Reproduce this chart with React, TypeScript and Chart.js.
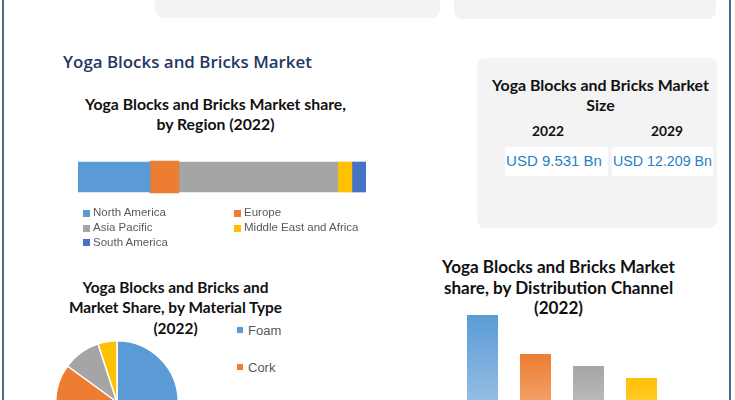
import React, { useEffect, useRef } from "react";
import { Chart, registerables } from "chart.js";
Chart.register(...registerables);

// ---------- data ----------
const regionLabels = ["North America", "Europe", "Asia Pacific", "Middle East and Africa", "South America"];
const regionShare = [25, 10, 55.2, 4.9, 4.9];
const regionColors = ["#5b9bd5", "#ed7d31", "#a5a5a5", "#ffc000", "#4472c4"];

const materialLabels = ["Foam", "Cork", "Wood", "Others"];
const materialShare = [60, 25, 10, 5];
const materialColors = ["#5b9bd5", "#ed7d31", "#a5a5a5", "#ffc000"];

const channelLabels = ["Online", "Specialty Stores", "Supermarkets", "Others"];
const channelShare = [45, 32, 28, 24];
const channelColors = ["#5b9bd5", "#ed7d31", "#a5a5a5", "#ffc000"];
const channelLight = ["#b4d2ee", "#f7c2a0", "#d6d6d6", "#ffe083"];

const marketYears = ["2022", "2029"];
const marketValues = ["USD 9.531 Bn", "USD 12.209 Bn"];

const heading = "Yoga Blocks and Bricks Market";
const regionTitle = ["Yoga Blocks and Bricks Market share,", "by Region (2022)"];
const sizeTitle = ["Yoga Blocks and Bricks Market", "Size"];
const materialTitle = ["Yoga Blocks and Bricks and", "Market Share, by Material Type", "(2022)"];
const channelTitle = ["Yoga Blocks and Bricks Market", "share, by Distribution Channel", "(2022)"];

// ---------- helpers ----------
const mctx = typeof document !== "undefined" ? document.createElement("canvas").getContext("2d") : null;
function fitSize(text: string, weight: string, family: string, width: number) {
  if (!mctx) return 14;
  mctx.font = `${weight} 100px ${family}`;
  return (100 * width) / mctx.measureText(text).width;
}

const TITLE_FONT = "Lato, 'Open Sans', sans-serif";

function Title({ lines, cx, y, gap, fitWidth, color = "#111", weight = "700", family = TITLE_FONT }: any) {
  const size = fitSize(lines[0], weight, family, fitWidth);
  return (
    <>
      {lines.map((t: string, i: number) => (
        <div
          key={i}
          style={{
            position: "absolute",
            left: cx,
            top: y + i * gap,
            transform: "translate(-50%, -50%)",
            whiteSpace: "nowrap",
            fontFamily: family,
            fontWeight: weight as any,
            fontSize: size,
            lineHeight: 1,
            color,
          }}
        >
          {t}
        </div>
      ))}
    </>
  );
}

function Box({ x, y, w, h, bg, r }: any) {
  return <div style={{ position: "absolute", left: x, top: y, width: w, height: h, background: bg, borderRadius: r }} />;
}

function ChartCanvas({ x, y, w, h, config }: any) {
  const ref = useRef<HTMLCanvasElement>(null);
  useEffect(() => {
    const c = new Chart(ref.current as HTMLCanvasElement, config);
    return () => c.destroy();
  }, []);
  return (
    <canvas ref={ref} width={w} height={h} style={{ position: "absolute", left: x, top: y, width: w, height: h }} />
  );
}

const hidden = { display: false };

const regionConfig: any = {
  type: "bar",
  data: {
    labels: ["2022"],
    datasets: regionLabels.map((l, i) => ({
      label: l,
      data: [regionShare[i]],
      backgroundColor: regionColors[i],
      borderWidth: 0,
      barThickness: i === 1 ? 32 : 30,
    })),
  },
  options: {
    indexAxis: "y",
    responsive: false,
    animation: false,
    layout: { padding: 0 },
    plugins: { legend: hidden, tooltip: { enabled: false } },
    scales: {
      x: { stacked: true, min: 0, max: 100, display: false },
      y: { stacked: true, display: false },
    },
  },
};

const materialConfig: any = {
  type: "pie",
  data: {
    labels: materialLabels,
    datasets: [
      {
        data: materialShare,
        backgroundColor: materialColors,
        borderColor: "#ffffff",
        borderWidth: 1.5,
        hoverOffset: 0,
      },
    ],
  },
  options: {
    responsive: false,
    animation: false,
    layout: { padding: 0 },
    plugins: { legend: hidden, tooltip: { enabled: false } },
  },
};

const channelConfig: any = {
  type: "bar",
  data: {
    labels: channelLabels,
    datasets: [
      {
        data: channelShare,
        backgroundColor: (ctx: any) => {
          const chart = ctx.chart;
          const i = ctx.dataIndex;
          if (!chart.chartArea || i === undefined) return channelColors[i || 0];
          const yScale = chart.scales.y;
          const top = yScale.getPixelForValue(channelShare[i]);
          const bottom = yScale.getPixelForValue(0);
          const g = chart.ctx.createLinearGradient(0, top, 0, bottom);
          g.addColorStop(0, channelColors[i]);
          g.addColorStop(1, channelLight[i]);
          return g;
        },
        borderWidth: 0,
        categoryPercentage: 1,
        barPercentage: 0.585,
      },
    ],
  },
  options: {
    responsive: false,
    animation: false,
    layout: { padding: 0 },
    plugins: { legend: hidden, tooltip: { enabled: false } },
    scales: {
      x: { display: false },
      y: { display: false, min: 0, max: 50 },
    },
  },
};

const LEG_FONT = "'Liberation Sans', Arial, sans-serif";

function LegendItem({ x, y, color, label, size, sq, gap }: any) {
  return (
    <>
      <div style={{ position: "absolute", left: x, top: y - sq / 2, width: sq, height: sq, background: color }} />
      <div
        style={{
          position: "absolute",
          left: x + sq + gap,
          top: y,
          transform: "translateY(-50%)",
          fontFamily: LEG_FONT,
          fontSize: size,
          lineHeight: 1,
          color: "#595959",
          whiteSpace: "nowrap",
        }}
      >
        {label}
      </div>
    </>
  );
}

export default function App() {
  const regionLegendPos = [
    [83, 213],
    [234, 213],
    [83, 228],
    [234, 228],
    [83, 242.5],
  ];
  const valueFont = "'Liberation Sans', Arial, sans-serif";
  return (
    <div
      style={{
        position: "fixed",
        left: 0,
        top: 0,
        width: 735,
        height: 400,
        overflow: "hidden",
        background: "#ffffff",
      }}
    >
      {/* frame lines */}
      <div style={{ position: "absolute", left: 2, top: 0, width: 2, height: 400, background: "#4d6c8c" }} />
      <div style={{ position: "absolute", left: 729, top: 0, width: 2, height: 400, background: "#4d6c8c" }} />

      {/* top cut-off boxes */}
      <Box x={155} y={-20} w={285} h={38} bg="#f3f3f3" r={8} />
      <Box x={454} y={-20} w={262} h={39} bg="#f3f3f3" r={8} />

      {/* heading */}
      <Title lines={[heading]} cx={187.5} y={62} gap={0} fitWidth={249} color="#1f3864" weight="600" family="'Open Sans', sans-serif" />

      {/* region chart */}
      <Title lines={regionTitle} cx={215.5} y={103.5} gap={20} fitWidth={261} />
      <ChartCanvas x={78} y={147} w={288} h={60} config={regionConfig} />
      {regionLabels.map((l, i) => (
        <LegendItem key={l} x={regionLegendPos[i][0]} y={regionLegendPos[i][1]} color={regionColors[i]} label={l} size={11.5} sq={7} gap={3} />
      ))}

      {/* market size box */}
      <Box x={477} y={58} w={240} h={170} bg="#f3f3f3" r={8} />
      <Title lines={sizeTitle} cx={600.5} y={85} gap={19.5} fitWidth={217} />
      <Title lines={[marketYears[0]]} cx={548} y={131} gap={0} fitWidth={32} />
      <Title lines={[marketYears[1]]} cx={667} y={131} gap={0} fitWidth={32} />
      <Box x={505} y={147} w={103} h={29} bg="#ffffff" r={3} />
      <Box x={612} y={147} w={101} h={29} bg="#ffffff" r={3} />
      <Title lines={[marketValues[0]]} cx={554} y={161} gap={0} fitWidth={96} color="#2a7fc1" weight="400" family={valueFont} />
      <Title lines={[marketValues[1]]} cx={662.5} y={161} gap={0} fitWidth={99} color="#2a7fc1" weight="400" family={valueFont} />

      {/* material pie */}
      <Title lines={materialTitle} cx={175.5} y={287.5} gap={20.8} fitWidth={186} />
      <ChartCanvas x={55} y={340} w={124} h={124} config={materialConfig} />
      {materialLabels.map((l, i) => (
        <LegendItem key={l} x={237} y={330 + i * 37} color={materialColors[i]} label={l} size={13} sq={6} gap={5} />
      ))}

      {/* channel bars */}
      <Title lines={channelTitle} cx={558.5} y={267} gap={20.5} fitWidth={233} />
      <ChartCanvas x={456} y={300} w={212} h={150} config={channelConfig} />
    </div>
  );
}
